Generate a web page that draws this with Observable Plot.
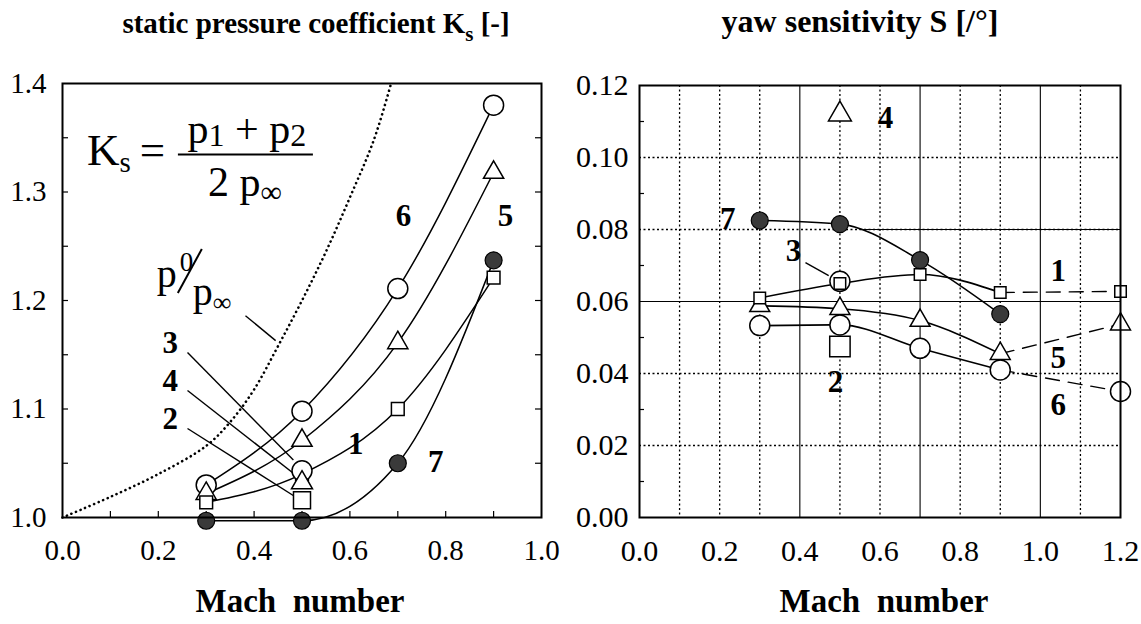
<!DOCTYPE html>
<html>
<head>
<meta charset="utf-8">
<script src="https://cdn.jsdelivr.net/npm/d3@7"></script>
<script src="https://cdn.jsdelivr.net/npm/@observablehq/plot@0.6"></script>
<style>
html, body { margin: 0; padding: 0; background: #fff; }
#wrap { position: relative; width: 1141px; height: 624px; overflow: hidden; font-family: "Liberation Serif", "Times New Roman", serif; color: #000; background: #fff; }
.title { position: absolute; top: 6px; font-weight: bold; font-size: 29px; line-height: 34px; white-space: nowrap; transform: translateX(-50%); }
.sub { font-size: 21px; position: relative; top: 8px; }
.xlab { position: absolute; top: 582px; font-weight: bold; font-size: 33px; line-height: 38px; white-space: nowrap; transform: translateX(-50%); }
.panel { position: absolute; top: 60px; }
</style>
</head>
<body>
<div id="wrap">
  <div class="title" style="left:316px">static pressure coefficient K<span class="sub">s</span> [-]</div>
  <div class="title" style="left:860px;font-size:32px;top:4px">yaw sensitivity S [/°]</div>
  <div id="leftPanel" class="panel" style="left:0px"></div>
  <div id="rightPanel" class="panel" style="left:570px"></div>
  <div class="xlab" style="left:300px">Mach&nbsp;&nbsp;number</div>
  <div class="xlab" style="left:884px">Mach&nbsp;&nbsp;number</div>
</div>
<script>
const SERIF = "'Liberation Serif', 'Times New Roman', serif";

// ---------- LEFT PANEL DATA: static pressure coefficient Ks ----------
const machL = [0.3, 0.5, 0.7, 0.9];
const ks1 = [1.014, 1.040, 1.100, 1.221];
const ks5 = [1.022, 1.071, 1.161, 1.318];
const ks6 = [1.030, 1.098, 1.211, 1.380];
const ks7 = [0.997, 0.997, 1.050, 1.237];
const machSingle = [0.5];
const ks2 = [1.016];
const ks3 = [1.043];
const ks4 = [1.032];
// p0/p_inf dotted curve
const pMach  = [0, 0.1, 0.2, 0.3, 0.35, 0.4, 0.45, 0.5, 0.55, 0.6, 0.65, 0.686];
const pRatio = [1.000, 1.019, 1.040, 1.066, 1.088, 1.118, 1.158, 1.200, 1.245, 1.295, 1.348, 1.400];
// series labels
const labL   = ["6", "5", "1", "7", "3", "4", "2"];
const labLx  = [0.712, 0.925, 0.612, 0.779, 0.225, 0.225, 0.225];
const labLy  = [1.278, 1.278, 1.068, 1.051, 1.161, 1.126, 1.091];
// leader lines (label -> point)
const leadLx1 = [0.261, 0.261, 0.261, 0.382];
const leadLy1 = [1.152, 1.117, 1.082, 1.186];
const leadLx2 = [0.482, 0.490, 0.490, 0.445];
const leadLy2 = [1.053, 1.038, 1.018, 1.163];
const xTicksL = [0, 0.2, 0.4, 0.6, 0.8, 1.0];
const yTicksL = [1.0, 1.1, 1.2, 1.3, 1.4];
const xMinorL = [0.1, 0.2, 0.3, 0.4, 0.5, 0.6, 0.7, 0.8, 0.9];
const yMinorL = [1.05, 1.1, 1.15, 1.2, 1.25, 1.3, 1.35];
const formulaAt = [0.052, 1.334];
const pLabelAt = [0.198, 1.212];

// ---------- RIGHT PANEL DATA: yaw sensitivity S ----------
const machR = [0.3, 0.5, 0.7, 0.9, 1.2];
const s1 = [0.0610, 0.0650, 0.0675, 0.0625, 0.0628];
const s5 = [0.0588, 0.0580, 0.0547, 0.0455, 0.0537];
const s6 = [0.0533, 0.0535, 0.0470, 0.0410, 0.0350];
const machR7 = [0.3, 0.5, 0.7, 0.9];
const s7 = [0.0825, 0.0815, 0.0715, 0.0565];
const s2 = [0.0475];
const s3 = [0.0656];
const s4 = [0.112];
const labR  = ["4", "7", "3", "1", "5", "6", "2"];
const labRx = [0.614, 0.220, 0.384, 1.045, 1.045, 1.045, 0.489];
const labRy = [0.111, 0.083, 0.074, 0.0685, 0.0442, 0.0311, 0.0375];
const leadRx1 = [0.414], leadRy1 = [0.0708], leadRx2 = [0.472], leadRy2 = [0.0672];
const xTicksR = [0, 0.2, 0.4, 0.6, 0.8, 1.0, 1.2];
const yTicksR = [0, 0.02, 0.04, 0.06, 0.08, 0.10, 0.12];
const gridXDot = [0.1, 0.2, 0.3, 0.5, 0.6, 0.8, 0.9, 1.1];
const gridXSolid = [0.4, 0.7, 1.0];
const gridYDot = [0.02, 0.04, 0.08, 0.10];
const gridYSolid = [0.06];
const gridYPartSolid = [0.08], gridYPartFrom = 0.55;
const yMinorR = [0.01, 0.03, 0.05, 0.07, 0.09, 0.11];

// ---------- helpers ----------
const pts = (xs, ys) => xs.map((x, i) => ({x, y: ys[i]}));
const labs = (ts, xs, ys) => ts.map((t, i) => ({t, x: xs[i], y: ys[i]}));
const links = (a, b, c, d) => a.map((v, i) => ({x1: v, y1: b[i], x2: c[i], y2: d[i]}));
const K = "#000";

// ---------- LEFT PLOT ----------
const LW = 570, LH = 500, LmL = 62, LmR = 29, LmT = 23, LmB = 43;
const LpW = LW - LmL - LmR, LpH = LH - LmT - LmB;
const fmt1 = d3.format(".1f"), fmt2 = d3.format(".2f");

const left = Plot.plot({
  width: LW, height: LH,
  marginLeft: LmL, marginRight: LmR, marginTop: LmT, marginBottom: LmB,
  style: {fontFamily: SERIF, fontSize: "29px", color: K, background: "transparent", overflow: "visible"},
  x: {domain: [0, 1], ticks: xTicksL, tickFormat: fmt1, tickSize: 0, tickPadding: 22, label: null},
  y: {domain: [1.0, 1.4], ticks: yTicksL, tickFormat: fmt1, tickSize: 0, tickPadding: 16, label: null},
  marks: [
    Plot.tickX(xMinorL, {x: d => d, insetTop: LpH - 6, stroke: K, strokeWidth: 1.2}),
    Plot.tickY(yMinorL, {y: d => d, insetRight: LpW - 6, stroke: K, strokeWidth: 1.2}),
    Plot.tickY(yMinorL, {y: d => d, insetLeft: LpW - 6, stroke: K, strokeWidth: 1.2}),
    Plot.line(pts(pMach, pRatio), {x: "x", y: "y", curve: "catmull-rom", stroke: K, strokeWidth: 2.6, strokeDasharray: "0.1,4.8", strokeLinecap: "round"}),
    Plot.line(pts(machL, ks6), {x: "x", y: "y", curve: "monotone-x", stroke: K, strokeWidth: 1.5}),
    Plot.line(pts(machL, ks5), {x: "x", y: "y", curve: "monotone-x", stroke: K, strokeWidth: 1.5}),
    Plot.line(pts(machL, ks1), {x: "x", y: "y", curve: "monotone-x", stroke: K, strokeWidth: 1.5}),
    Plot.line(pts(machL, ks7), {x: "x", y: "y", curve: "monotone-x", stroke: K, strokeWidth: 1.5}),
    Plot.link(links(leadLx1, leadLy1, leadLx2, leadLy2), {x1: "x1", y1: "y1", x2: "x2", y2: "y2", stroke: K, strokeWidth: 1.4}),
    Plot.dot(pts(machL, ks6), {x: "x", y: "y", symbol: "circle", r: 10, fill: "#fff", stroke: K, strokeWidth: 1.5}),
    Plot.dot(pts(machL, ks5), {x: "x", y: "y", symbol: "triangle", r: 7.5, fill: "#fff", stroke: K, strokeWidth: 1.5}),
    Plot.dot(pts(machL, ks1), {x: "x", y: "y", symbol: "square", r: 7.2, fill: "#fff", stroke: K, strokeWidth: 1.5}),
    Plot.dot(pts(machSingle, ks3), {x: "x", y: "y", symbol: "circle", r: 10, fill: "#fff", stroke: K, strokeWidth: 1.5}),
    Plot.dot(pts(machSingle, ks4), {x: "x", y: "y", symbol: "triangle", r: 7.8, fill: "#fff", stroke: K, strokeWidth: 1.5}),
    Plot.dot(pts(machSingle, ks2), {x: "x", y: "y", symbol: "square", r: 9.6, fill: "#fff", stroke: K, strokeWidth: 1.5}),
    Plot.dot(pts(machL, ks7), {x: "x", y: "y", symbol: "circle", r: 8.5, fill: "#3a3a3a", stroke: K, strokeWidth: 1.2}),
    Plot.text(labs(labL, labLx, labLy), {x: "x", y: "y", text: "t", fontWeight: "bold", fontSize: 31, fill: K}),
    Plot.frame({stroke: K, strokeWidth: 2})
  ]
});
document.getElementById("leftPanel").appendChild(left);

// formula and p0/p_inf label (rich text, positioned through the plot's scales)
(function () {
  const sxd = left.scale("x"), syd = left.scale("y");
  const sx = d3.scaleLinear(sxd.domain, sxd.range), sy = d3.scaleLinear(syd.domain, syd.range);
  const svg = d3.select(left);
  const g = svg.append("g").attr("transform", `translate(${sx(formulaAt[0])},${sy(formulaAt[1])})`)
    .attr("font-family", SERIF).attr("fill", K).attr("text-anchor", "start");
  const lhs = g.append("text").attr("x", 0).attr("y", 10).attr("font-size", 45);
  lhs.append("tspan").text("K");
  lhs.append("tspan").attr("font-size", 29).attr("dy", 7).text("s");
  lhs.append("tspan").attr("dy", -7).attr("dx", 9).text("=");
  g.append("line").attr("x1", 91).attr("x2", 226).attr("y1", 0).attr("y2", 0).attr("stroke", K).attr("stroke-width", 2);
  const num = g.append("text").attr("x", 160).attr("y", -12).attr("text-anchor", "middle").attr("font-size", 42);
  num.append("tspan").text("p");
  num.append("tspan").attr("font-size", 32).attr("dy", 3).text("1");
  num.append("tspan").attr("dy", -3).text("\u00a0+\u00a0p");
  num.append("tspan").attr("font-size", 32).attr("dy", 3).text("2");
  const den = g.append("text").attr("x", 158).attr("y", 41).attr("text-anchor", "middle").attr("font-size", 42);
  den.append("tspan").text("2\u00a0p");
  den.append("tspan").attr("font-size", 30).attr("dy", 6).text("\u221e");
  // p0 / p_inf
  const h = svg.append("g").attr("transform", `translate(${sx(pLabelAt[0])},${sy(pLabelAt[1])})`)
    .attr("font-family", SERIF).attr("fill", K).attr("text-anchor", "start");
  const t1 = h.append("text").attr("x", 0).attr("y", 0).attr("font-size", 40);
  t1.append("tspan").text("p");
  t1.append("tspan").attr("font-size", 27).attr("dy", -16).attr("dx", 3).text("0");
  h.append("line").attr("x1", 21).attr("y1", 6).attr("x2", 45).attr("y2", -38).attr("stroke", K).attr("stroke-width", 2);
  const t2 = h.append("text").attr("x", 36).attr("y", 18).attr("font-size", 40);
  t2.append("tspan").text("p");
  t2.append("tspan").attr("font-size", 26).attr("dy", 6).text("\u221e");
})();

// ---------- RIGHT PLOT ----------
const RW = 571, RH = 500, RmL = 69, RmR = 21, RmT = 25, RmB = 43;
const RpW = RW - RmL - RmR, RpH = RH - RmT - RmB;
const solidR = (xs, ys) => pts(xs, ys).filter(d => d.x <= 0.9);
const dashR = (xs, ys) => pts(xs, ys).filter(d => d.x >= 0.9);

const right = Plot.plot({
  width: RW, height: RH,
  marginLeft: RmL, marginRight: RmR, marginTop: RmT, marginBottom: RmB,
  style: {fontFamily: SERIF, fontSize: "30px", color: K, background: "transparent", overflow: "visible"},
  x: {domain: [0, 1.2], ticks: xTicksR, tickFormat: fmt1, tickSize: 0, tickPadding: 22, label: null},
  y: {domain: [0, 0.12], ticks: yTicksR, tickFormat: fmt2, tickSize: 0, tickPadding: 11, label: null},
  marks: [
    Plot.ruleX(gridXDot, {x: d => d, stroke: K, strokeWidth: 1.3, strokeDasharray: "2,2.5"}),
    Plot.ruleX(gridXSolid, {x: d => d, stroke: K, strokeWidth: 1.1}),
    Plot.ruleY(gridYDot, {y: d => d, stroke: K, strokeWidth: 1.3, strokeDasharray: "2,2.5"}),
    Plot.ruleY(gridYSolid, {y: d => d, stroke: K, strokeWidth: 1.2}),
    Plot.ruleY(gridYPartSolid, {y: d => d, x1: gridYPartFrom, x2: 1.2, stroke: K, strokeWidth: 1.1}),
    Plot.tickY(yMinorR, {y: d => d, insetRight: RpW - 5, stroke: K, strokeWidth: 1.2}),
    Plot.line(solidR(machR, s6), {x: "x", y: "y", curve: "monotone-x", stroke: K, strokeWidth: 1.6}),
    Plot.line(dashR(machR, s6), {x: "x", y: "y", stroke: K, strokeWidth: 1.4, strokeDasharray: "14,9"}),
    Plot.line(solidR(machR, s5), {x: "x", y: "y", curve: "monotone-x", stroke: K, strokeWidth: 1.6}),
    Plot.line(dashR(machR, s5), {x: "x", y: "y", stroke: K, strokeWidth: 1.4, strokeDasharray: "14,9"}),
    Plot.line(solidR(machR, s1), {x: "x", y: "y", curve: "monotone-x", stroke: K, strokeWidth: 1.6}),
    Plot.line(dashR(machR, s1), {x: "x", y: "y", stroke: K, strokeWidth: 1.4, strokeDasharray: "14,9"}),
    Plot.line(pts(machR7, s7), {x: "x", y: "y", curve: "monotone-x", stroke: K, strokeWidth: 1.6}),
    Plot.link(links(leadRx1, leadRy1, leadRx2, leadRy2), {x1: "x1", y1: "y1", x2: "x2", y2: "y2", stroke: K, strokeWidth: 1.4}),
    Plot.dot(pts(machR, s6), {x: "x", y: "y", symbol: "circle", r: 10, fill: "#fff", stroke: K, strokeWidth: 1.5}),
    Plot.dot(pts(machR, s5), {x: "x", y: "y", symbol: "triangle", r: 7.4, fill: "#fff", stroke: K, strokeWidth: 1.5}),
    Plot.dot(pts(machSingle, s2), {x: "x", y: "y", symbol: "square", r: 11.5, fill: "#fff", stroke: K, strokeWidth: 1.5}),
    Plot.dot(pts(machSingle, s4), {x: "x", y: "y", symbol: "triangle", r: 8.5, fill: "#fff", stroke: K, strokeWidth: 1.5}),
    Plot.dot(pts(machSingle, s3), {x: "x", y: "y", symbol: "circle", r: 10, fill: "#fff", stroke: K, strokeWidth: 1.5}),
    Plot.dot(pts(machR, s1), {x: "x", y: "y", symbol: "square", r: 6.5, fill: "#fff", stroke: K, strokeWidth: 1.5}),
    Plot.dot(pts(machR7, s7), {x: "x", y: "y", symbol: "circle", r: 8.5, fill: "#3a3a3a", stroke: K, strokeWidth: 1.2}),
    Plot.text(labs(labR, labRx, labRy), {x: "x", y: "y", text: "t", fontWeight: "bold", fontSize: 31, fill: K}),
    Plot.frame({stroke: K, strokeWidth: 2})
  ]
});
document.getElementById("rightPanel").appendChild(right);
</script>
</body>
</html>
